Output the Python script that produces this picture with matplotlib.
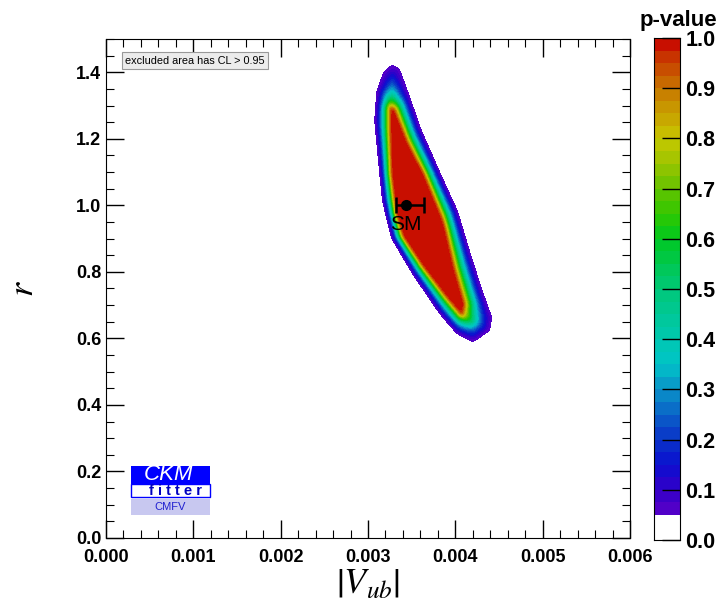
import numpy as np
import matplotlib
matplotlib.use("Agg")
from matplotlib import pyplot as plt
from matplotlib.path import Path
from matplotlib.colors import LinearSegmentedColormap
from matplotlib.patches import Rectangle
from matplotlib.ticker import MultipleLocator, FormatStrFormatter

plt.rcParams["mathtext.fontset"] = "stix"

# outline of the p = 0.05 contour (|Vub|, r)
outer_x = [0.003275, 0.003366, 0.003424, 0.003595, 0.003824, 0.004019, 0.004168, 0.004317,
           0.004420, 0.004397, 0.004202, 0.004019, 0.003824, 0.003515, 0.003275, 0.003172,
           0.003126, 0.003080, 0.003103, 0.003172]
outer_y = [1.425, 1.410, 1.365, 1.233, 1.095, 0.984, 0.855, 0.735,
           0.663, 0.624, 0.588, 0.615, 0.675, 0.795, 0.903, 1.014,
           1.134, 1.254, 1.344, 1.398]
# outline of the red plateau
core_x = [0.003252, 0.003332, 0.003481, 0.003676, 0.003882, 0.003916, 0.004019, 0.004134,
          0.004111, 0.004053, 0.003859, 0.003595, 0.003366, 0.003286, 0.003229, 0.003218,
          0.003218]
core_y = [1.308, 1.293, 1.194, 1.095, 0.963, 0.933, 0.813, 0.705,
          0.663, 0.663, 0.723, 0.813, 0.903, 0.975, 1.095, 1.215,
          1.293]

# SM point
sm_x, sm_y = 0.003435, 1.0
sm_err_lo, sm_err_hi = 0.00012, 0.00021

# colour palette anchors (p-value, colour)
pal_p = [0.05, 0.1, 0.15, 0.2, 0.25, 0.3, 0.35, 0.4, 0.45, 0.5,
         0.55, 0.6, 0.65, 0.7, 0.75, 0.8, 0.85, 0.9, 0.95, 1.0]
pal_c = ["#5a00c8", "#3200c8", "#0a10d0", "#0a34c8", "#0a62c8", "#0a92c8", "#00c4c8",
         "#00c8b0", "#00c896", "#00c878", "#00c850", "#00c820", "#30c800", "#64c200",
         "#98c400", "#c8c800", "#c8a000", "#c87800", "#c84400", "#c80000"]

# pixel-like scales so distances are isotropic on screen
SX = 524 / 0.006
SY = 500 / 1.5


def seg_dist(px, py, xs, ys):
    ax = np.array(xs) * SX
    ay = np.array(ys) * SY
    bx = np.roll(ax, -1)
    by = np.roll(ay, -1)
    px = px[:, None] * SX
    py = py[:, None] * SY
    dx, dy = bx - ax, by - ay
    t = ((px - ax) * dx + (py - ay) * dy) / (dx ** 2 + dy ** 2)
    t = np.clip(t, 0, 1)
    d = np.hypot(px - (ax + t * dx), py - (ay + t * dy))
    return d.min(axis=1)


def blur(a, sx, sy):
    # separable gaussian smoothing, sigma given in grid cells
    for axis, s in ((1, sx), (0, sy)):
        k = np.exp(-0.5 * (np.arange(-3 * int(s) - 1, 3 * int(s) + 2) / s) ** 2)
        k /= k.sum()
        a = np.apply_along_axis(lambda r: np.convolve(r, k, mode="same"), axis, a)
    return a


gx = np.linspace(0.0029, 0.0047, 500)
gy = np.linspace(0.5, 1.5, 500)
X, Y = np.meshgrid(gx, gy)
pts = np.column_stack([X.ravel(), Y.ravel()])
in_out = Path(np.column_stack([outer_x, outer_y])).contains_points(pts)
in_core = Path(np.column_stack([core_x, core_y])).contains_points(pts)
d_core = seg_dist(pts[:, 0], pts[:, 1], core_x, core_y)
d_core[in_core] *= -1
d_out = seg_dist(pts[:, 0], pts[:, 1], outer_x, outer_y)
u = np.clip(d_core + 4.0, 0, None)
t = u / (u + d_out + 1e-9)
p = 0.05 + 0.95 * (1 - t) ** 1.5
p[~in_out] = 0.05 * np.exp(-d_out[~in_out] / 3.0)
P = blur(p.reshape(X.shape), 5.0, 2.5)

levels = [0.0] + list(np.arange(0.05, 1.0001, 0.025))
cmap = LinearSegmentedColormap.from_list("pv", list(zip([(v - 0.05) / 0.95 for v in pal_p], pal_c)))
mids = [(levels[i] + levels[i + 1]) / 2 for i in range(1, len(levels) - 1)]
colors = ["white"] + [cmap((m - 0.05) / 0.95) for m in mids]

fig = plt.figure(figsize=(7.22, 6.14), dpi=100)
ax = fig.add_axes([0.1468, 0.1238, 0.7258, 0.8127])
cs = ax.contourf(X, Y, P, levels=levels, colors=colors, extend="max")

ax.errorbar([sm_x], [sm_y], xerr=[[sm_err_lo], [sm_err_hi]], fmt="o", color="black",
            ms=7, capsize=6, elinewidth=1.8, capthick=1.8)
ax.text(sm_x, sm_y - 0.03, "SM", ha="center", va="top", fontsize=15, family="Liberation Sans")

ax.set_xlim(0, 0.006)
ax.set_ylim(0, 1.5)
ax.xaxis.set_major_locator(MultipleLocator(0.001))
ax.xaxis.set_minor_locator(MultipleLocator(0.0002))
ax.yaxis.set_major_locator(MultipleLocator(0.2))
ax.yaxis.set_minor_locator(MultipleLocator(0.05))
ax.xaxis.set_major_formatter(FormatStrFormatter("%.3f"))
ax.yaxis.set_major_formatter(FormatStrFormatter("%.1f"))
ax.tick_params(which="both", direction="in", top=True, right=True)
ax.tick_params(which="major", length=13, width=1)
ax.tick_params(which="minor", length=6, width=0.8)
ax.tick_params(axis="x", pad=8)
for lab in ax.get_xticklabels() + ax.get_yticklabels():
    lab.set_fontfamily("Liberation Sans")
    lab.set_fontweight("bold")
    lab.set_fontsize(13)

ax.set_xlabel(r"$\left|V_{ub}\right|$", fontsize=26, labelpad=0)
ax.set_ylabel(r"$r$", fontsize=26, labelpad=26)

# excluded-area note
ax.text(0.00022, 1.435, "excluded area has CL > 0.95", fontsize=7.8, family="Liberation Sans",
        va="center", ha="left",
        bbox=dict(boxstyle="square,pad=0.3", fc="#ececec", ec="#999999", lw=0.8))

# CKMfitter logo
ax.add_patch(Rectangle((0.000286, 0.162), 0.000905, 0.054, fc="#0000ff", ec="none"))
ax.add_patch(Rectangle((0.000286, 0.122), 0.000905, 0.040, fc="white", ec="#0000ff", lw=1))
ax.add_patch(Rectangle((0.000286, 0.069), 0.000905, 0.047, fc="#c8c8f0", ec="none"))
ax.text(0.00072, 0.19, "CKM", color="white", fontsize=16, style="italic",
        family="Liberation Sans", ha="center", va="center")
ax.text(0.00080, 0.141, "f i t t e r", color="#0000c0", fontsize=10.5, weight="bold",
        family="Liberation Sans", ha="center", va="center")
ax.text(0.00073, 0.092, "CMFV", color="#2020d0", fontsize=8,
        family="Liberation Sans", ha="center", va="center")

# colour bar (drawn from the level colours, 0 .. 1)
cax = fig.add_axes([0.9058, 0.1205, 0.036, 0.8175])
for i in range(len(levels) - 1):
    cax.add_patch(Rectangle((0, levels[i]), 1, levels[i + 1] - levels[i], fc=colors[i], ec="none"))
cax.set_xlim(0, 1)
cax.set_ylim(0, 1)
cax.set_xticks([])
cax.yaxis.set_ticks_position("right")
cax.set_yticks(np.arange(0, 1.01, 0.1))
cax.set_yticklabels(["%.1f" % v for v in np.arange(0, 1.01, 0.1)])
cax.tick_params(direction="in", length=13, width=1, pad=4)
for lab in cax.get_yticklabels():
    lab.set_fontfamily("Liberation Sans")
    lab.set_fontweight("bold")
    lab.set_fontsize(15.5)
fig.text(0.94, 0.967, "p-value", fontsize=16, weight="bold", family="Liberation Sans",
         ha="center", va="center")

fig.savefig("out.png", dpi=100)
